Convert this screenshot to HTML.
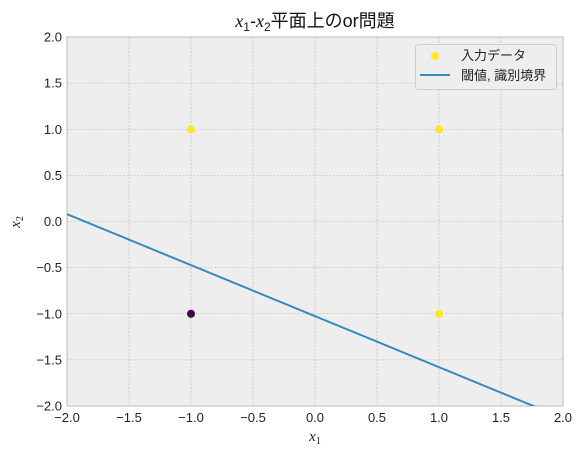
<!DOCTYPE html>
<html><head><meta charset="utf-8"><style>
body{margin:0;background:#fff;}
svg{display:block;font-family:"Liberation Sans","Noto Sans CJK JP",sans-serif;}
</style></head><body>
<svg id="chart" width="583" height="456"></svg>
<script>
const xTicks=[-2,-1.5,-1,-0.5,0,0.5,1,1.5,2];
const yTicks=[-2,-1.5,-1,-0.5,0,0.5,1,1.5,2];
const tickLabels=["−2.0","−1.5","−1.0","−0.5","0.0","0.5","1.0","1.5","2.0"];
const pointsX=[-1,-1,1,1];
const pointsY=[-1,1,-1,1];
const pointClass=[0,1,1,1];
const lineSlope=[-0.553];
const lineIntercept=[-1.026];
const L=67,R=563,T=37,B=406;
const sx=v=>L+(v+2)/4*(R-L);
const sy=v=>B-(v+2)/4*(B-T);
const NS="http://www.w3.org/2000/svg";
const svg=document.getElementById('chart');
function mk(t,a,txt){const e=document.createElementNS(NS,t);for(const k in a)e.setAttribute(k,a[k]);if(txt!=null)e.textContent=txt;svg.appendChild(e);return e;}
let e=mk('rect',{x:L,y:T,width:R-L,height:B-T,fill:'#eeeeee'});


xTicks.forEach((v,i)=>{
 e=mk('line',{x1:sx(v),x2:sx(v),y1:T,y2:B,stroke:'#b2b2b2','stroke-width':0.6,'stroke-dasharray':'2,1.5'});
 
 
 e=mk('text',{x:sx(v),y:B+16,'text-anchor':'middle','font-size':13,fill:'#222'},tickLabels[i]);
 
 
});
yTicks.forEach((v,i)=>{
 e=mk('line',{x1:L,x2:R,y1:sy(v),y2:sy(v),stroke:'#b2b2b2','stroke-width':0.6,'stroke-dasharray':'2,1.5'});
 
 
 e=mk('text',{x:L-5,y:sy(v)+4.5,'text-anchor':'end','font-size':13,fill:'#222'},tickLabels[i]);
 
 
});
e=mk('rect',{x:L,y:T,width:R-L,height:B-T,fill:'none',stroke:'#bcbcbc','stroke-width':1});


const cp=mk('clipPath',{id:'clp'});
const cr=document.createElementNS(NS,'rect');cr.setAttribute('x',L);cr.setAttribute('y',T);cr.setAttribute('width',R-L);cr.setAttribute('height',B-T);cp.appendChild(cr);
const m=lineSlope[0],c=lineIntercept[0];
e=mk('line',{x1:sx(-2),y1:sy(m*-2+c),x2:sx(2),y2:sy(m*2+c),stroke:'#348abd','stroke-width':2,'clip-path':'url(#clp)'});


pointsX.forEach((v,i)=>{
 e=mk('circle',{cx:sx(v),cy:sy(pointsY[i]),r:4,fill:pointClass[i]?'#fde725':'#440154'});
 
 
});
e=mk('text',{x:315,y:27,'text-anchor':'middle','font-size':18,fill:'#111'});
e.innerHTML='<tspan font-family="Liberation Serif" font-style="italic">x</tspan><tspan font-size="12" dy="4">1</tspan><tspan dy="-4">-</tspan><tspan font-family="Liberation Serif" font-style="italic">x</tspan><tspan font-size="12" dy="4">2</tspan><tspan dy="-4">平面上のor問題</tspan>';


e=mk('text',{x:315,y:441,'text-anchor':'middle','font-size':15,fill:'#222','font-family':'Liberation Serif','font-style':'italic'});
e.innerHTML='x<tspan font-size="10" dy="3" font-style="normal">1</tspan>';


e=mk('text',{x:20,y:222,'text-anchor':'middle','font-size':15,fill:'#222','font-family':'Liberation Serif','font-style':'italic',transform:'rotate(-90 20 222)'});
e.innerHTML='x<tspan font-size="10" dy="3" font-style="normal">2</tspan>';


e=mk('rect',{x:415.5,y:44.5,width:141,height:45,rx:3,fill:'#eeeeee',stroke:'#cccccc','stroke-width':1});


e=mk('circle',{cx:435,cy:56,r:4,fill:'#fde725'});


e=mk('text',{x:461,y:60,'font-size':13,fill:'#222'},'入力データ');


e=mk('line',{x1:420,x2:450,y1:75,y2:75,stroke:'#348abd','stroke-width':2});


e=mk('text',{x:461,y:80,'font-size':13,fill:'#222'},'閾値, 識別境界');


</script>
</body></html>
